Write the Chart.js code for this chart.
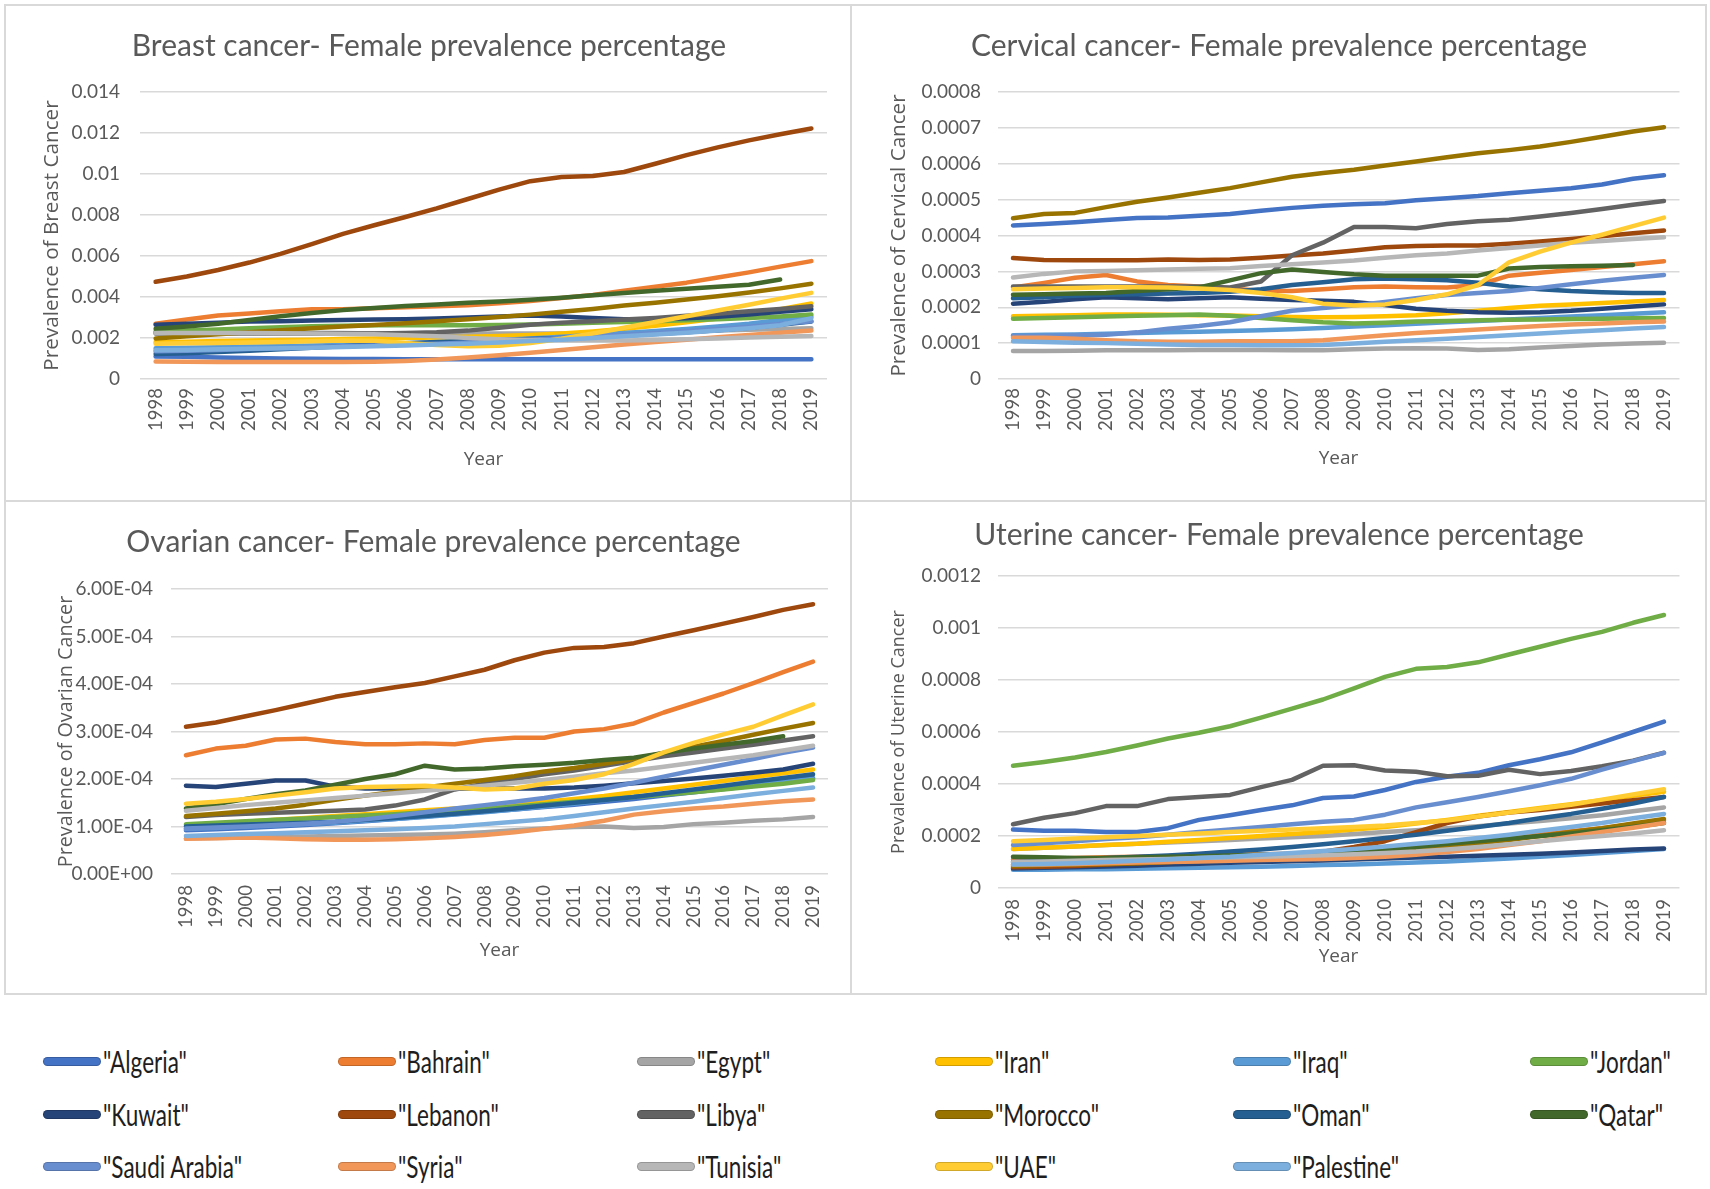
<!DOCTYPE html>
<html>
<head>
<meta charset="utf-8">
<title>Female cancer prevalence</title>
<script src="https://cdn.jsdelivr.net/npm/chart.js@4.4.1/dist/chart.umd.min.js"></script>
<style>
  html, body { margin: 0; padding: 0; background: #fff; }
  body { width: 1710px; height: 1189px; position: relative; overflow: hidden; }
  .panel { position: absolute; }
  .frame { position: absolute; background: #D9D9D9; }
  .legend-item {
    position: absolute; display: flex; align-items: center; height: 40px;
    font-family: Lato, sans-serif; font-size: 31px; color: #1e1e1e; white-space: nowrap;
  }
  .legend-item .txt { display: inline-block; transform-origin: left center; }
  .swatch { width: 58px; height: 9px; border-radius: 5px; margin-right: 2px; box-shadow: inset 0 0 0 1px rgba(0,0,0,0.18); }
</style>
</head>
<body>

<div class="frame" style="left:4px;top:4px;width:1703px;height:2px"></div>
<div class="frame" style="left:4px;top:500px;width:1703px;height:2px"></div>
<div class="frame" style="left:4px;top:993px;width:1703px;height:2px"></div>
<div class="frame" style="left:4px;top:4px;width:2px;height:991px"></div>
<div class="frame" style="left:850px;top:4px;width:2px;height:991px"></div>
<div class="frame" style="left:1705px;top:4px;width:2px;height:991px"></div>

<div class="panel" style="left:6px;top:6px"><canvas id="breast" width="844" height="494"></canvas></div>
<div class="panel" style="left:852px;top:6px"><canvas id="cervical" width="853" height="494"></canvas></div>
<div class="panel" style="left:6px;top:502px"><canvas id="ovarian" width="844" height="491"></canvas></div>
<div class="panel" style="left:852px;top:502px"><canvas id="uterine" width="853" height="491"></canvas></div>

<div id="legend"></div>

<script>
const years = ['1998','1999','2000','2001','2002','2003','2004','2005','2006','2007','2008',
  '2009','2010','2011','2012','2013','2014','2015','2016','2017','2018','2019'];

const countries = ['"Algeria"','"Bahrain"','"Egypt"','"Iran"','"Iraq"','"Jordan"','"Kuwait"','"Lebanon"',
  '"Libya"','"Morocco"','"Oman"','"Qatar"','"Saudi Arabia"','"Syria"','"Tunisia"','"UAE"','"Palestine"'];

const colors = ['#4472C4','#ED7D31','#A5A5A5','#FFC000','#5B9BD5','#70AD47','#264478','#9E480E',
  '#636363','#997300','#255E91','#43682B','#698ED0','#F1975A','#B7B7B7','#FFCD33','#7CAFDD'];

// one row per country, same order as countries
const breast = [
  [0.00110,0.00108,0.00105,0.00102,0.00100,0.00099,0.00098,0.00097,0.00096,0.00096,0.00096,0.00096,0.00096,0.00096,0.00096,0.00096,0.00096,0.00096,0.00096,0.00096,0.00096,0.00096],
  [0.00270,0.00290,0.00310,0.00320,0.00330,0.00340,0.00340,0.00345,0.00350,0.00355,0.00360,0.00370,0.00380,0.00395,0.00410,0.00430,0.00450,0.00470,0.00495,0.00520,0.00548,0.00575],
  [0.00230,0.00230,0.00230,0.00230,0.00228,0.00226,0.00224,0.00222,0.00222,0.00222,0.00222,0.00222,0.00222,0.00222,0.00222,0.00224,0.00228,0.00232,0.00236,0.00240,0.00244,0.00248],
  [0.00180,0.00182,0.00185,0.00188,0.00190,0.00192,0.00195,0.00198,0.00200,0.00203,0.00206,0.00210,0.00215,0.00222,0.00232,0.00245,0.00260,0.00277,0.00295,0.00315,0.00340,0.00368],
  [0.00150,0.00152,0.00155,0.00158,0.00160,0.00163,0.00166,0.00170,0.00174,0.00178,0.00183,0.00190,0.00198,0.00206,0.00215,0.00224,0.00234,0.00244,0.00256,0.00270,0.00288,0.00305],
  [0.00230,0.00236,0.00242,0.00248,0.00253,0.00257,0.00260,0.00262,0.00262,0.00262,0.00262,0.00263,0.00266,0.00270,0.00274,0.00278,0.00282,0.00287,0.00292,0.00298,0.00305,0.00315],
  [0.00265,0.00270,0.00275,0.00280,0.00282,0.00285,0.00288,0.00290,0.00292,0.00295,0.00300,0.00305,0.00310,0.00305,0.00298,0.00292,0.00292,0.00296,0.00304,0.00315,0.00328,0.00340],
  [0.00474,0.00500,0.00532,0.00568,0.00610,0.00658,0.00708,0.00750,0.00790,0.00832,0.00878,0.00924,0.00965,0.00985,0.00990,0.01010,0.01050,0.01092,0.01130,0.01164,0.01194,0.01222],
  [0.00222,0.00222,0.00222,0.00222,0.00222,0.00222,0.00222,0.00222,0.00224,0.00228,0.00236,0.00250,0.00265,0.00275,0.00282,0.00290,0.00298,0.00308,0.00318,0.00330,0.00342,0.00355],
  [0.00198,0.00208,0.00218,0.00228,0.00238,0.00248,0.00256,0.00264,0.00272,0.00282,0.00292,0.00302,0.00314,0.00328,0.00342,0.00358,0.00372,0.00388,0.00404,0.00422,0.00442,0.00465],
  [0.00122,0.00126,0.00132,0.00138,0.00145,0.00152,0.00160,0.00168,0.00175,0.00180,0.00185,0.00190,0.00195,0.00200,0.00205,0.00212,0.00220,0.00228,0.00238,0.00250,0.00264,0.00280],
  [0.00245,0.00256,0.00270,0.00288,0.00306,0.00322,0.00336,0.00346,0.00356,0.00364,0.00372,0.00378,0.00386,0.00396,0.00408,0.00420,0.00430,0.00440,0.00450,0.00460,0.00485,null],
  [0.00135,0.00138,0.00142,0.00146,0.00150,0.00155,0.00160,0.00164,0.00168,0.00172,0.00178,0.00185,0.00192,0.00200,0.00208,0.00216,0.00225,0.00234,0.00244,0.00255,0.00268,0.00282],
  [0.00085,0.00084,0.00083,0.00083,0.00083,0.00083,0.00083,0.00084,0.00088,0.00095,0.00105,0.00116,0.00128,0.00142,0.00155,0.00168,0.00180,0.00192,0.00204,0.00215,0.00226,0.00236],
  [0.00224,0.00224,0.00224,0.00224,0.00223,0.00222,0.00220,0.00218,0.00214,0.00208,0.00200,0.00194,0.00190,0.00188,0.00188,0.00188,0.00190,0.00194,0.00198,0.00202,0.00206,0.00210],
  [0.00172,0.00174,0.00176,0.00178,0.00180,0.00184,0.00188,0.00186,0.00176,0.00166,0.00160,0.00162,0.00176,0.00196,0.00222,0.00250,0.00278,0.00306,0.00334,0.00362,0.00392,0.00420],
  [0.00140,0.00142,0.00145,0.00148,0.00150,0.00153,0.00156,0.00160,0.00164,0.00168,0.00172,0.00178,0.00185,0.00192,0.00200,0.00208,0.00217,0.00226,0.00236,0.00248,0.00262,0.00296]
];

const cervical = [
  [0.000428,0.000432,0.000437,0.000443,0.000449,0.000450,0.000455,0.000460,0.000469,0.000477,0.000483,0.000487,0.000490,0.000498,0.000504,0.000510,0.000518,0.000525,0.000532,0.000542,0.000558,0.000568],
  [0.000255,0.000268,0.000282,0.000290,0.000272,0.000262,0.000258,0.000252,0.000246,0.000245,0.000250,0.000256,0.000258,0.000256,0.000255,0.000262,0.000288,0.000296,0.000304,0.000312,0.000320,0.000328],
  [0.000078,0.000078,0.000079,0.000080,0.000080,0.000080,0.000081,0.000081,0.000081,0.000080,0.000080,0.000083,0.000085,0.000086,0.000085,0.000081,0.000083,0.000088,0.000092,0.000096,0.000099,0.000101],
  [0.000175,0.000176,0.000178,0.000180,0.000180,0.000179,0.000178,0.000177,0.000175,0.000173,0.000172,0.000173,0.000175,0.000178,0.000183,0.000190,0.000198,0.000204,0.000208,0.000212,0.000216,0.000220],
  [0.000122,0.000123,0.000124,0.000126,0.000128,0.000130,0.000132,0.000134,0.000136,0.000139,0.000142,0.000146,0.000150,0.000154,0.000158,0.000162,0.000166,0.000170,0.000174,0.000178,0.000182,0.000186],
  [0.000168,0.000170,0.000172,0.000174,0.000176,0.000178,0.000180,0.000176,0.000170,0.000164,0.000158,0.000155,0.000157,0.000160,0.000162,0.000164,0.000165,0.000166,0.000167,0.000168,0.000169,0.000170],
  [0.000210,0.000215,0.000222,0.000228,0.000225,0.000222,0.000225,0.000228,0.000224,0.000220,0.000218,0.000215,0.000206,0.000196,0.000190,0.000186,0.000185,0.000186,0.000190,0.000196,0.000202,0.000208],
  [0.000337,0.000332,0.000331,0.000331,0.000331,0.000333,0.000332,0.000333,0.000338,0.000344,0.000350,0.000358,0.000367,0.000371,0.000372,0.000372,0.000377,0.000383,0.000390,0.000398,0.000406,0.000414],
  [0.000258,0.000258,0.000258,0.000258,0.000258,0.000258,0.000258,0.000255,0.000272,0.000345,0.000380,0.000424,0.000424,0.000420,0.000432,0.000440,0.000444,0.000453,0.000463,0.000474,0.000486,0.000496],
  [0.000448,0.000460,0.000463,0.000479,0.000494,0.000506,0.000519,0.000532,0.000548,0.000564,0.000574,0.000583,0.000595,0.000606,0.000618,0.000629,0.000638,0.000648,0.000661,0.000675,0.000690,0.000702],
  [0.000225,0.000228,0.000232,0.000235,0.000236,0.000238,0.000240,0.000243,0.000250,0.000262,0.000270,0.000278,0.000280,0.000278,0.000275,0.000268,0.000258,0.000250,0.000245,0.000242,0.000240,0.000240],
  [0.000235,0.000236,0.000238,0.000240,0.000245,0.000250,0.000255,0.000275,0.000295,0.000305,0.000298,0.000292,0.000288,0.000288,0.000288,0.000288,0.000308,0.000312,0.000314,0.000316,0.000318,null],
  [0.000120,0.000120,0.000121,0.000123,0.000130,0.000140,0.000148,0.000158,0.000175,0.000190,0.000198,0.000205,0.000215,0.000225,0.000234,0.000240,0.000245,0.000254,0.000264,0.000274,0.000282,0.000290],
  [0.000115,0.000115,0.000112,0.000108,0.000105,0.000104,0.000104,0.000105,0.000105,0.000105,0.000108,0.000115,0.000122,0.000128,0.000133,0.000138,0.000143,0.000148,0.000152,0.000155,0.000158,0.000160],
  [0.000283,0.000293,0.000300,0.000301,0.000303,0.000305,0.000307,0.000309,0.000315,0.000320,0.000325,0.000330,0.000338,0.000345,0.000350,0.000358,0.000365,0.000372,0.000380,0.000385,0.000390,0.000395],
  [0.000250,0.000252,0.000254,0.000256,0.000256,0.000255,0.000252,0.000248,0.000240,0.000228,0.000210,0.000205,0.000208,0.000220,0.000236,0.000262,0.000325,0.000355,0.000380,0.000402,0.000426,0.000450],
  [0.000105,0.000103,0.000101,0.000100,0.000098,0.000096,0.000095,0.000095,0.000094,0.000094,0.000095,0.000099,0.000104,0.000108,0.000112,0.000117,0.000122,0.000127,0.000132,0.000136,0.000141,0.000145]
];

const ovarian = [
  [0.92e-4,0.94e-4,0.97e-4,1.00e-4,1.03e-4,1.07e-4,1.11e-4,1.16e-4,1.21e-4,1.26e-4,1.31e-4,1.36e-4,1.41e-4,1.46e-4,1.52e-4,1.58e-4,1.65e-4,1.72e-4,1.79e-4,1.86e-4,1.94e-4,2.02e-4],
  [2.50e-4,2.64e-4,2.70e-4,2.83e-4,2.85e-4,2.78e-4,2.73e-4,2.73e-4,2.75e-4,2.73e-4,2.82e-4,2.87e-4,2.87e-4,3.00e-4,3.05e-4,3.17e-4,3.40e-4,3.60e-4,3.80e-4,4.02e-4,4.25e-4,4.47e-4],
  [0.75e-4,0.76e-4,0.77e-4,0.78e-4,0.79e-4,0.80e-4,0.81e-4,0.82e-4,0.83e-4,0.85e-4,0.88e-4,0.92e-4,0.96e-4,0.99e-4,1.00e-4,0.97e-4,0.99e-4,1.05e-4,1.08e-4,1.12e-4,1.15e-4,1.20e-4],
  [1.02e-4,1.06e-4,1.10e-4,1.14e-4,1.18e-4,1.22e-4,1.26e-4,1.30e-4,1.34e-4,1.38e-4,1.42e-4,1.47e-4,1.52e-4,1.58e-4,1.64e-4,1.72e-4,1.80e-4,1.88e-4,1.96e-4,2.04e-4,2.12e-4,2.20e-4],
  [0.95e-4,0.97e-4,1.00e-4,1.02e-4,1.05e-4,1.08e-4,1.12e-4,1.16e-4,1.20e-4,1.25e-4,1.30e-4,1.36e-4,1.42e-4,1.48e-4,1.55e-4,1.62e-4,1.68e-4,1.75e-4,1.82e-4,1.88e-4,1.94e-4,2.00e-4],
  [1.05e-4,1.08e-4,1.11e-4,1.14e-4,1.17e-4,1.20e-4,1.23e-4,1.26e-4,1.30e-4,1.33e-4,1.37e-4,1.42e-4,1.47e-4,1.52e-4,1.57e-4,1.62e-4,1.67e-4,1.72e-4,1.78e-4,1.84e-4,1.90e-4,1.98e-4],
  [1.86e-4,1.83e-4,1.90e-4,1.97e-4,1.97e-4,1.84e-4,1.80e-4,1.80e-4,1.80e-4,1.80e-4,1.80e-4,1.80e-4,1.80e-4,1.82e-4,1.86e-4,1.91e-4,1.96e-4,2.01e-4,2.07e-4,2.13e-4,2.20e-4,2.32e-4],
  [3.10e-4,3.19e-4,3.32e-4,3.45e-4,3.59e-4,3.73e-4,3.83e-4,3.93e-4,4.02e-4,4.16e-4,4.30e-4,4.50e-4,4.66e-4,4.76e-4,4.78e-4,4.86e-4,5.00e-4,5.13e-4,5.27e-4,5.41e-4,5.56e-4,5.68e-4],
  [1.20e-4,1.24e-4,1.27e-4,1.29e-4,1.31e-4,1.33e-4,1.36e-4,1.44e-4,1.57e-4,1.78e-4,1.90e-4,2.00e-4,2.10e-4,2.18e-4,2.28e-4,2.38e-4,2.48e-4,2.56e-4,2.64e-4,2.72e-4,2.81e-4,2.90e-4],
  [1.22e-4,1.27e-4,1.32e-4,1.38e-4,1.46e-4,1.56e-4,1.65e-4,1.73e-4,1.82e-4,1.90e-4,1.98e-4,2.06e-4,2.16e-4,2.23e-4,2.32e-4,2.42e-4,2.55e-4,2.68e-4,2.80e-4,2.93e-4,3.06e-4,3.18e-4],
  [1.00e-4,1.02e-4,1.04e-4,1.06e-4,1.08e-4,1.10e-4,1.14e-4,1.18e-4,1.22e-4,1.27e-4,1.32e-4,1.38e-4,1.44e-4,1.50e-4,1.56e-4,1.62e-4,1.70e-4,1.78e-4,1.86e-4,1.94e-4,2.02e-4,2.10e-4],
  [1.38e-4,1.47e-4,1.58e-4,1.68e-4,1.76e-4,1.88e-4,2.00e-4,2.10e-4,2.28e-4,2.20e-4,2.22e-4,2.27e-4,2.30e-4,2.34e-4,2.40e-4,2.45e-4,2.55e-4,2.64e-4,2.72e-4,2.80e-4,2.90e-4,null],
  [0.96e-4,0.98e-4,1.00e-4,1.03e-4,1.06e-4,1.10e-4,1.15e-4,1.22e-4,1.30e-4,1.38e-4,1.45e-4,1.52e-4,1.60e-4,1.70e-4,1.80e-4,1.92e-4,2.05e-4,2.18e-4,2.30e-4,2.42e-4,2.55e-4,2.66e-4],
  [0.74e-4,0.75e-4,0.77e-4,0.75e-4,0.73e-4,0.72e-4,0.72e-4,0.73e-4,0.75e-4,0.78e-4,0.82e-4,0.88e-4,0.95e-4,1.02e-4,1.12e-4,1.25e-4,1.32e-4,1.38e-4,1.42e-4,1.48e-4,1.53e-4,1.57e-4],
  [1.33e-4,1.39e-4,1.45e-4,1.50e-4,1.55e-4,1.60e-4,1.65e-4,1.70e-4,1.75e-4,1.80e-4,1.86e-4,1.92e-4,1.98e-4,2.05e-4,2.12e-4,2.18e-4,2.26e-4,2.34e-4,2.42e-4,2.50e-4,2.60e-4,2.70e-4],
  [1.48e-4,1.52e-4,1.58e-4,1.65e-4,1.72e-4,1.80e-4,1.83e-4,1.84e-4,1.86e-4,1.82e-4,1.78e-4,1.80e-4,1.90e-4,1.98e-4,2.10e-4,2.32e-4,2.56e-4,2.76e-4,2.94e-4,3.10e-4,3.34e-4,3.57e-4],
  [0.80e-4,0.82e-4,0.84e-4,0.86e-4,0.88e-4,0.90e-4,0.92e-4,0.94e-4,0.97e-4,1.00e-4,1.05e-4,1.10e-4,1.15e-4,1.22e-4,1.30e-4,1.38e-4,1.45e-4,1.52e-4,1.60e-4,1.68e-4,1.75e-4,1.82e-4]
];

const uterine = [
  [2.25e-4,2.20e-4,2.20e-4,2.15e-4,2.15e-4,2.30e-4,2.62e-4,2.80e-4,3.00e-4,3.18e-4,3.46e-4,3.52e-4,3.77e-4,4.08e-4,4.28e-4,4.43e-4,4.72e-4,4.95e-4,5.22e-4,5.60e-4,6.00e-4,6.40e-4],
  [1.10e-4,1.12e-4,1.15e-4,1.18e-4,1.20e-4,1.22e-4,1.25e-4,1.28e-4,1.30e-4,1.32e-4,1.35e-4,1.40e-4,1.48e-4,1.58e-4,1.68e-4,1.80e-4,1.92e-4,2.05e-4,2.18e-4,2.30e-4,2.45e-4,2.60e-4],
  [1.50e-4,1.55e-4,1.60e-4,1.65e-4,1.70e-4,1.75e-4,1.80e-4,1.85e-4,1.90e-4,1.95e-4,2.00e-4,2.08e-4,2.15e-4,2.22e-4,2.30e-4,2.38e-4,2.48e-4,2.58e-4,2.68e-4,2.80e-4,2.95e-4,3.10e-4],
  [1.50e-4,1.55e-4,1.60e-4,1.65e-4,1.70e-4,1.78e-4,1.85e-4,1.92e-4,2.00e-4,2.08e-4,2.15e-4,2.25e-4,2.35e-4,2.48e-4,2.62e-4,2.78e-4,2.92e-4,3.08e-4,3.22e-4,3.38e-4,3.55e-4,3.70e-4],
  [0.70e-4,0.70e-4,0.72e-4,0.72e-4,0.74e-4,0.76e-4,0.78e-4,0.80e-4,0.82e-4,0.85e-4,0.88e-4,0.90e-4,0.94e-4,0.98e-4,1.02e-4,1.08e-4,1.13e-4,1.20e-4,1.27e-4,1.35e-4,1.42e-4,1.50e-4],
  [4.70e-4,4.85e-4,5.02e-4,5.23e-4,5.48e-4,5.75e-4,5.97e-4,6.22e-4,6.55e-4,6.90e-4,7.25e-4,7.68e-4,8.12e-4,8.43e-4,8.50e-4,8.68e-4,8.98e-4,9.28e-4,9.58e-4,9.85e-4,10.20e-4,10.50e-4],
  [0.75e-4,0.78e-4,0.80e-4,0.83e-4,0.86e-4,0.90e-4,0.93e-4,0.97e-4,1.00e-4,1.03e-4,1.06e-4,1.10e-4,1.13e-4,1.17e-4,1.20e-4,1.24e-4,1.28e-4,1.32e-4,1.37e-4,1.42e-4,1.48e-4,1.52e-4],
  [0.80e-4,0.82e-4,0.85e-4,0.90e-4,0.95e-4,1.00e-4,1.05e-4,1.10e-4,1.18e-4,1.28e-4,1.40e-4,1.58e-4,1.80e-4,2.15e-4,2.50e-4,2.75e-4,2.90e-4,3.00e-4,3.12e-4,3.25e-4,3.38e-4,3.50e-4],
  [2.45e-4,2.70e-4,2.88e-4,3.15e-4,3.15e-4,3.42e-4,3.50e-4,3.58e-4,3.88e-4,4.16e-4,4.70e-4,4.72e-4,4.52e-4,4.47e-4,4.30e-4,4.32e-4,4.55e-4,4.38e-4,4.50e-4,4.68e-4,4.90e-4,5.20e-4],
  [0.85e-4,0.88e-4,0.90e-4,0.92e-4,0.95e-4,1.00e-4,1.05e-4,1.10e-4,1.15e-4,1.20e-4,1.25e-4,1.32e-4,1.40e-4,1.50e-4,1.60e-4,1.72e-4,1.85e-4,2.00e-4,2.15e-4,2.30e-4,2.48e-4,2.65e-4],
  [1.00e-4,1.05e-4,1.10e-4,1.15e-4,1.20e-4,1.25e-4,1.32e-4,1.40e-4,1.48e-4,1.58e-4,1.68e-4,1.80e-4,1.92e-4,2.05e-4,2.20e-4,2.35e-4,2.50e-4,2.68e-4,2.85e-4,3.05e-4,3.25e-4,3.50e-4],
  [1.20e-4,1.18e-4,1.15e-4,1.15e-4,1.18e-4,1.20e-4,1.22e-4,1.25e-4,1.28e-4,1.30e-4,1.35e-4,1.40e-4,1.48e-4,1.58e-4,1.70e-4,1.80e-4,1.90e-4,2.00e-4,2.10e-4,2.22e-4,2.35e-4,2.50e-4],
  [1.65e-4,1.72e-4,1.80e-4,1.88e-4,1.95e-4,2.05e-4,2.15e-4,2.25e-4,2.35e-4,2.45e-4,2.55e-4,2.62e-4,2.82e-4,3.10e-4,3.30e-4,3.50e-4,3.72e-4,3.95e-4,4.20e-4,4.55e-4,4.88e-4,5.20e-4],
  [0.90e-4,0.90e-4,0.92e-4,0.95e-4,0.98e-4,1.00e-4,1.02e-4,1.05e-4,1.08e-4,1.10e-4,1.12e-4,1.15e-4,1.20e-4,1.28e-4,1.38e-4,1.50e-4,1.65e-4,1.80e-4,1.98e-4,2.15e-4,2.32e-4,2.50e-4],
  [1.00e-4,1.02e-4,1.05e-4,1.08e-4,1.10e-4,1.12e-4,1.15e-4,1.18e-4,1.20e-4,1.23e-4,1.26e-4,1.30e-4,1.35e-4,1.40e-4,1.48e-4,1.58e-4,1.68e-4,1.80e-4,1.90e-4,2.00e-4,2.10e-4,2.22e-4],
  [1.80e-4,1.85e-4,1.90e-4,1.95e-4,2.00e-4,2.05e-4,2.10e-4,2.15e-4,2.20e-4,2.25e-4,2.30e-4,2.35e-4,2.40e-4,2.50e-4,2.60e-4,2.75e-4,2.90e-4,3.05e-4,3.20e-4,3.40e-4,3.60e-4,3.80e-4],
  [0.90e-4,0.92e-4,0.95e-4,1.00e-4,1.05e-4,1.10e-4,1.15e-4,1.20e-4,1.28e-4,1.35e-4,1.42e-4,1.50e-4,1.60e-4,1.70e-4,1.80e-4,1.92e-4,2.05e-4,2.20e-4,2.35e-4,2.50e-4,2.68e-4,2.85e-4]
];

const GREY = '#595959';
Chart.defaults.font.family = 'Lato, "Open Sans", sans-serif';

function plainTick(v) {
  return String(+Number(v).toPrecision(6));
}

function sciTick(v) {
  v = +Number(v).toPrecision(6);
  if (v === 0) return '0.00E+00';
  const e = Math.floor(Math.log10(Math.abs(v)) + 1e-9);
  const m = v / Math.pow(10, e);
  return m.toFixed(2) + 'E' + (e < 0 ? '-' : '+') + String(Math.abs(e)).padStart(2, '0');
}

function drawPanel(id, title, yTitle, rows, p) {
  const ctx = document.getElementById(id).getContext('2d');
  new Chart(ctx, {
    type: 'line',
    data: {
      labels: years,
      datasets: countries.map((name, i) => ({
        label: name,
        data: rows[i],
        borderColor: colors[i],
        backgroundColor: colors[i],
        borderWidth: 4.5,
        pointRadius: 0,
        tension: 0,
        fill: false,
        spanGaps: false,
        borderCapStyle: 'round',
        borderJoinStyle: 'round',
        order: countries.length - i
      }))
    },
    options: {
      responsive: false,
      animation: false,
      events: [],
      layout: { padding: { left: p.padLeft, right: p.padRight, top: 0, bottom: 0 } },
      plugins: {
        legend: { display: false },
        tooltip: { enabled: false },
        title: {
          display: true,
          text: title,
          color: GREY,
          font: { family: 'Lato', size: 30, weight: 'normal' },
          padding: { top: p.titleTop, bottom: p.titleBottom }
        }
      },
      scales: {
        x: {
          offset: true,
          grid: { display: false, drawTicks: false },
          border: { display: false },
          ticks: {
            autoSkip: false, minRotation: 90, maxRotation: 90,
            color: GREY, font: { size: 18.5 }, padding: p.xTickPad
          },
          title: {
            display: true, text: 'Year', color: GREY,
            font: { family: '"Open Sans"', size: 19 },
            padding: { top: 0, bottom: p.xTitleBottom }
          },
          afterFit: s => { s.height = p.xHeight; }
        },
        y: {
          min: 0,
          max: p.max,
          grid: { color: '#D9D9D9', lineWidth: 1.5, drawTicks: false },
          border: { display: false },
          ticks: {
            stepSize: p.step, color: GREY, font: { size: 19 }, padding: p.yTickPad,
            callback: p.sci ? sciTick : plainTick
          },
          title: {
            display: true, text: yTitle, color: GREY,
            font: { family: '"Open Sans"', size: p.yTitleSize },
            padding: { top: p.yTitleTop, bottom: 0 }
          },
          afterFit: s => { s.width = p.yWidth; }
        }
      }
    }
  });
}

drawPanel('breast', 'Breast cancer- Female prevalence percentage', 'Prevalence of Breast Cancer', breast, {
  max: 0.014, step: 0.002, sci: false, padLeft: 25, padRight: 23,
  titleTop: 22, titleBottom: 28, yWidth: 109, yTickPad: 20, yTitleSize: 20.7, yTitleTop: 8.6,
  xHeight: 121, xTickPad: 9, xTitleBottom: 28.8
});
drawPanel('cervical', 'Cervical cancer- Female prevalence percentage', 'Prevalence of Cervical Cancer', cervical, {
  max: 0.0008, step: 0.0001, sci: false, padLeft: 26.5, padRight: 25.5,
  titleTop: 22, titleBottom: 28, yWidth: 119, yTickPad: 16.5, yTitleSize: 20.6, yTitleTop: 8.1,
  xHeight: 121, xTickPad: 9, xTitleBottom: 30.3
});
drawPanel('ovarian', 'Ovarian cancer- Female prevalence percentage', 'Prevalence of Ovarian Cancer', ovarian, {
  max: 6e-4, step: 1e-4, sci: true, padLeft: 33, padRight: 22,
  titleTop: 22, titleBottom: 29, yWidth: 132, yTickPad: 18, yTitleSize: 19.8, yTitleTop: 15.1,
  xHeight: 119, xTickPad: 11, xTitleBottom: 30.8
});
drawPanel('uterine', 'Uterine cancer- Female prevalence percentage', 'Prevalence of Uterine Cancer', uterine, {
  max: 0.0012, step: 0.0002, sci: false, padLeft: 26.5, padRight: 25.5,
  titleTop: 15, titleBottom: 23, yWidth: 119, yTickPad: 16.5, yTitleSize: 18, yTitleTop: 9.7,
  xHeight: 105, xTickPad: 11, xTitleBottom: 24.8
});

// shared legend, 6 columns x 3 rows
const legendCols = [43, 338, 637, 935, 1233, 1530];
const legendRows = [1061, 1114, 1166];
const legend = document.getElementById('legend');
const texts = [];
countries.forEach((name, i) => {
  const item = document.createElement('div');
  item.className = 'legend-item';
  item.style.left = legendCols[i % 6] + 'px';
  item.style.top = (legendRows[Math.floor(i / 6)] - 20) + 'px';
  const sw = document.createElement('span');
  sw.className = 'swatch';
  sw.style.background = colors[i];
  const tx = document.createElement('span');
  tx.className = 'txt';
  tx.textContent = name;
  item.appendChild(sw);
  item.appendChild(tx);
  legend.appendChild(item);
  texts.push(tx);
});
// the legend text in the picture is narrow: squeeze so "Saudi Arabia" is ~139px wide
const squeeze = 139 / texts[12].getBoundingClientRect().width;
texts.forEach(t => { t.style.transform = 'scaleX(' + squeeze.toFixed(3) + ')'; });
</script>
</body>
</html>
